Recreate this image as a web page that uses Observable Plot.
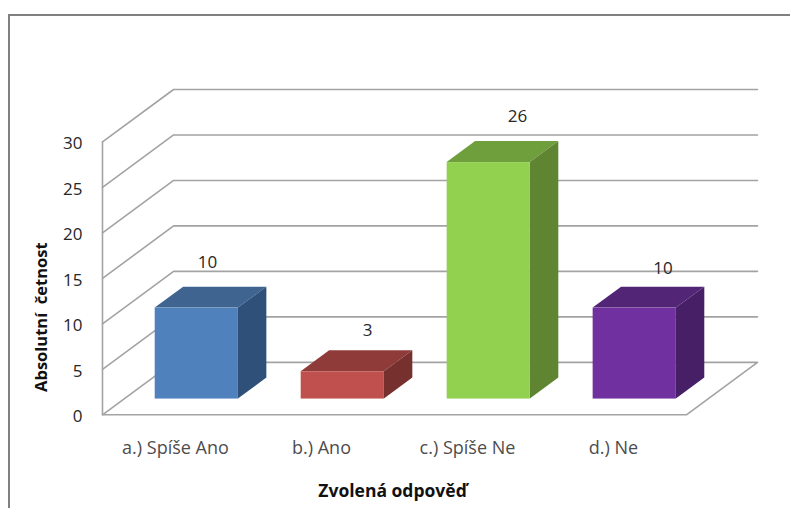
<!DOCTYPE html>
<html>
<head>
<meta charset="utf-8">
<script src="https://cdn.jsdelivr.net/npm/d3@7"></script>
<script src="https://cdn.jsdelivr.net/npm/@observablehq/plot@0.6"></script>
<style>
html,body{margin:0;padding:0;background:#fff;overflow:hidden}
#chart{position:relative;width:790px;height:508px}
#chart svg{position:absolute;left:0;top:0}
#edge{position:absolute;left:8px;top:13.5px;right:0;bottom:0;border-left:2px solid #808080;border-top:2px solid #808080}
</style>
</head>
<body>
<div id="chart"><div id="edge"></div></div>
<script>
const categories = ["a.) Spíše Ano", "b.) Ano", "c.) Spíše Ne", "d.) Ne"];
const values = [10, 3, 26, 10];
const yTicks = [0, 5, 10, 15, 20, 25, 30];
const frontColors = ["#4f81bd", "#c0504d", "#92d050", "#7030a0"];
const topColors = ["#3f648f", "#8f3b39", "#6f9e3d", "#532577"];
const sideColors = ["#2f5179", "#76302e", "#5f8533", "#471f66"];

// Oblique projection of the chart's depth axis, in data units
const depthX = 0.487, depthY = 5.77;
const barWidth = 0.57, barFront = 0.3, barBack = 0.7;
const px = (u, d) => u + depthX * d;
const py = (v, d) => v + depthY * d;

const bars = values.map((v, i) => ({
  i, v, label: categories[i],
  l: i + 0.5 - barWidth / 2, r: i + 0.5 + barWidth / 2,
  front: frontColors[i], top: topColors[i], side: sideColors[i]
}));

const grid = yTicks.slice(1).flatMap(t => [
  {t, x: px(0, 0), y: py(t, 0)},
  {t, x: px(0, 1), y: py(t, 1)},
  {t, x: px(4, 1), y: py(t, 1)}
]);
const floor = [[0,0],[0,1],[4,1],[4,0],[0,0]].map(([u, d]) => ({x: px(u, d), y: py(0, d)}));
const wall = [0, 30].map(v => ({x: 0, y: v}));

const topFaces = bars.flatMap(b => [b.l, b.r].map(u => ({
  k: b.i, color: b.top,
  x1: px(u, barFront), y1: py(b.v, barFront), x2: px(u, barBack), y2: py(b.v, barBack)
})));
const sideFaces = bars.flatMap(b => [barFront, barBack].map(d => ({
  k: b.i, color: b.side,
  x1: px(b.r, d), y1: py(0, d), x2: px(b.r, d), y2: py(b.v, d)
})));

const lineStyle = {stroke: "#a3a3a3", strokeWidth: 1.6};
const nudges = [[-3.5, -25], [10.5, -20], [14.5, -25], [14, -19]];

const plot = Plot.plot({
  width: 790, height: 508,
  marginLeft: 102, marginRight: 33, marginTop: 89, marginBottom: 93.7,
  x: {type: "linear", domain: [0, 4 + depthX]},
  y: {type: "linear", domain: [0, 30 + depthY]},
  color: {type: "identity"},
  style: {fontFamily: "'Open Sans', sans-serif", fontSize: "16px", background: "transparent", overflow: "visible"},
  marks: [
    Plot.line(grid, {x: "x", y: "y", z: "t", ...lineStyle}),
    Plot.line(floor, {x: "x", y: "y", ...lineStyle}),
    Plot.line(wall, {x: "x", y: "y", ...lineStyle}),
    Plot.area(topFaces, {x1: "x1", y1: "y1", x2: "x2", y2: "y2", z: "k", fill: "color"}),
    Plot.area(sideFaces, {x1: "x1", y1: "y1", x2: "x2", y2: "y2", z: "k", fill: "color"}),
    Plot.rect(bars, {
      x1: d => px(d.l, barFront), x2: d => px(d.r, barFront),
      y1: () => py(0, barFront), y2: d => py(d.v, barFront), fill: "front"
    }),
    ...bars.map((b, i) => Plot.text([b], {
      x: d => px((d.l + d.r) / 2, (barFront + barBack) / 2),
      y: d => py(d.v, barBack),
      text: d => String(d.v),
      dx: nudges[i][0], dy: nudges[i][1], fill: "#262626", fontSize: 17
    })),
    Plot.axisY({ticks: yTicks, tickSize: 0, tickPadding: 20, dy: 2, label: null, fill: "#262626", fontSize: 17}),
    Plot.axisX({
      ticks: categories.map((c, i) => i + 0.5),
      tickFormat: d => categories[Math.floor(d)],
      tickSize: 0, tickPadding: 26, label: null, fill: "#4d4d4d", fontSize: 18
    }),
    Plot.text(["Absolutní  četnost"], {
      frameAnchor: "left", textAnchor: "middle", rotate: -90, dx: -61, dy: 65,
      fontWeight: "bold", fill: "#111", fontSize: 16.5
    }),
    Plot.text(["Zvolená odpověď"], {
      frameAnchor: "bottom", dx: -37.5, dy: 82,
      fontWeight: "bold", fill: "#111", fontSize: 17.5
    })
  ]
});
document.getElementById("chart").appendChild(plot);
</script>
</body>
</html>
